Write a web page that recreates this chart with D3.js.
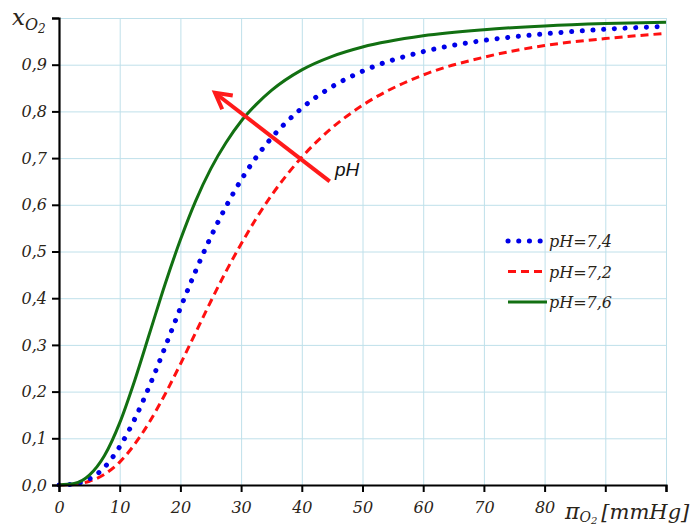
<!DOCTYPE html>
<html><head><meta charset="utf-8">
<script src="https://cdn.jsdelivr.net/npm/d3@7"></script>
<style>body{margin:0;background:#fff}</style>
</head><body><svg id="c" width="690" height="530"></svg>
<script>
// ---- data ----
const pressure = [0,2.5,5,7.5,10,12.5,15,17.5,20,22.5,25,27.5,30,32.5,35,40,45,50,60,70,80,90,100];
const ph74 = [0,0.002,0.013,0.038,0.082,0.142,0.215,0.296,0.379,0.458,0.531,0.596,0.653,0.702,0.743,0.807,0.853,0.886,0.928,0.952,0.966,0.976,0.982];
const ph72 = [0,0.001,0.008,0.023,0.049,0.088,0.137,0.195,0.259,0.326,0.393,0.457,0.516,0.571,0.620,0.702,0.765,0.813,0.878,0.916,0.941,0.956,0.967];
const ph76 = [0,0.003,0.021,0.063,0.133,0.225,0.328,0.431,0.525,0.608,0.677,0.733,0.779,0.815,0.845,0.889,0.918,0.938,0.962,0.975,0.983,0.988,0.991];
const seriesNames = ["pH=7,4","pH=7,2","pH=7,6"];
const xTicks = [0,10,20,30,40,50,60,70,80,90,100];
const xTickLabels = ["0","10","20","30","40","50","60","70","80","",""];
const yTicks = [0,0.1,0.2,0.3,0.4,0.5,0.6,0.7,0.8,0.9,1.0];
const yTickLabels = ["0,0","0,1","0,2","0,3","0,4","0,5","0,6","0,7","0,8","0,9",""];
const arrowFrom = [44.6, 0.65];
const arrowTo = [25.7, 0.84];
const arrowLabel = "pH";

// ---- drawing ----
const svg = d3.select("#c");
const W = 690, H = 530;
const m = {left:59, right:24, top:18, bottom:45};
const x = d3.scaleLinear().domain([0,100]).range([m.left, W-m.right]);
const y = d3.scaleLinear().domain([0,1]).range([H-m.bottom, m.top]);
const serif = "'DejaVu Serif', serif";

// grid
const grid = svg.append("g").attr("stroke","#bfe0ea").attr("stroke-width",1);
grid.selectAll("line.v").data(xTicks.slice(1)).join("line")
  .attr("x1",d=>x(d)+0.5).attr("x2",d=>x(d)+0.5).attr("y1",y(0)).attr("y2",y(1));
grid.selectAll("line.h").data(yTicks.slice(1)).join("line")
  .attr("y1",d=>y(d)+0.5).attr("y2",d=>y(d)+0.5).attr("x1",x(0)).attr("x2",x(100));

// series
const series = [
  {name:seriesNames[0], vals:ph74, color:"#0000e8", width:5, dash:"0.1 10.6", cap:"round"},
  {name:seriesNames[1], vals:ph72, color:"#ff1010", width:3, dash:"8 5", cap:"butt"},
  {name:seriesNames[2], vals:ph76, color:"#127012", width:3, dash:null, cap:"butt"}
];
const line = d3.line().x((d,i)=>x(pressure[i])).y(d=>y(d)).curve(d3.curveMonotoneX);
const order = [1,0,2];
order.forEach(k=>{
  const s = series[k];
  svg.append("path").datum(s.vals).attr("d",line)
    .attr("fill","none").attr("stroke",s.color).attr("stroke-width",s.width)
    .attr("stroke-dasharray",s.dash).attr("stroke-linecap",s.cap);
});

// axes
const xAxis = svg.append("g").attr("transform",`translate(0,${y(0)})`)
  .call(d3.axisBottom(x).tickValues(xTicks).tickSize(7).tickFormat((d,i)=>xTickLabels[i]));
const yAxis = svg.append("g").attr("transform",`translate(${x(0)},0)`)
  .call(d3.axisLeft(y).tickValues(yTicks).tickSize(7).tickFormat((d,i)=>yTickLabels[i]));
[xAxis,yAxis].forEach(a=>{
  a.select(".domain").attr("stroke","#000").attr("stroke-width",2.2);
  a.selectAll(".tick line").attr("stroke","#000").attr("stroke-width",2);
  a.selectAll(".tick text").attr("font-family",serif).attr("font-style","italic")
    .attr("font-size",16).attr("fill","#2a2418");
});
xAxis.selectAll(".tick text").attr("dy","1.1em");
yAxis.selectAll(".tick text").attr("x",-12);

// y title
const yt = svg.append("text").attr("x",12).attr("y",25).attr("font-family",serif)
  .attr("font-style","italic").attr("fill","#2a2418");
yt.append("tspan").attr("font-size",23).text("x");
yt.append("tspan").attr("font-size",16).attr("dy",5).text("O");
yt.append("tspan").attr("font-size",12).attr("dy",3).text("2");

// x title
const xt = svg.append("text").attr("x",565).attr("y",519).attr("font-family",serif)
  .attr("font-style","italic").attr("fill","#2a2418");
xt.append("tspan").attr("font-size",22).text("π");
xt.append("tspan").attr("font-size",14).attr("dy",3).text("O");
xt.append("tspan").attr("font-size",10).attr("dy",2).text("2");
xt.append("tspan").attr("font-size",21).attr("dy",-5).attr("dx",4).text("[mmHg]");

// arrow
const ax0 = x(arrowFrom[0]), ay0 = y(arrowFrom[1]), ax1 = x(arrowTo[0]), ay1 = y(arrowTo[1]);
const ang = Math.atan2(ay0-ay1, ax0-ax1);
const L = 18, spread = 0.5;
const ar = svg.append("g").attr("stroke","#ff1a1a").attr("stroke-width",4).attr("fill","none").attr("stroke-linecap","butt");
ar.append("line").attr("x1",ax0).attr("y1",ay0).attr("x2",ax1+1).attr("y2",ay1+1);
ar.append("polyline").attr("stroke-linejoin","miter").attr("points",[
  [ax1+L*Math.cos(ang+spread), ay1+L*Math.sin(ang+spread)],
  [ax1,ay1],
  [ax1+L*Math.cos(ang-spread), ay1+L*Math.sin(ang-spread)]
].map(p=>p.join(",")).join(" "));
svg.append("text").attr("x",335).attr("y",176).attr("font-family","'Liberation Sans', Arial, sans-serif")
  .attr("font-style","italic").attr("font-size",19).attr("fill","#111").text(arrowLabel);

// legend
const lg = svg.append("g");
series.forEach((s,i)=>{
  const yy = 241 + i*30.5;
  lg.append("line").attr("x1",508).attr("x2",s.dash? 544:547).attr("y1",yy).attr("y2",yy)
    .attr("stroke",s.color).attr("stroke-width",s.width).attr("stroke-dasharray",s.dash).attr("stroke-linecap",s.cap);
  lg.append("text").attr("x",549).attr("y",yy+6).attr("font-family",serif).attr("font-style","italic")
    .attr("font-size",16).attr("fill","#2a2418").text(s.name);
});
</script>
</body></html>
